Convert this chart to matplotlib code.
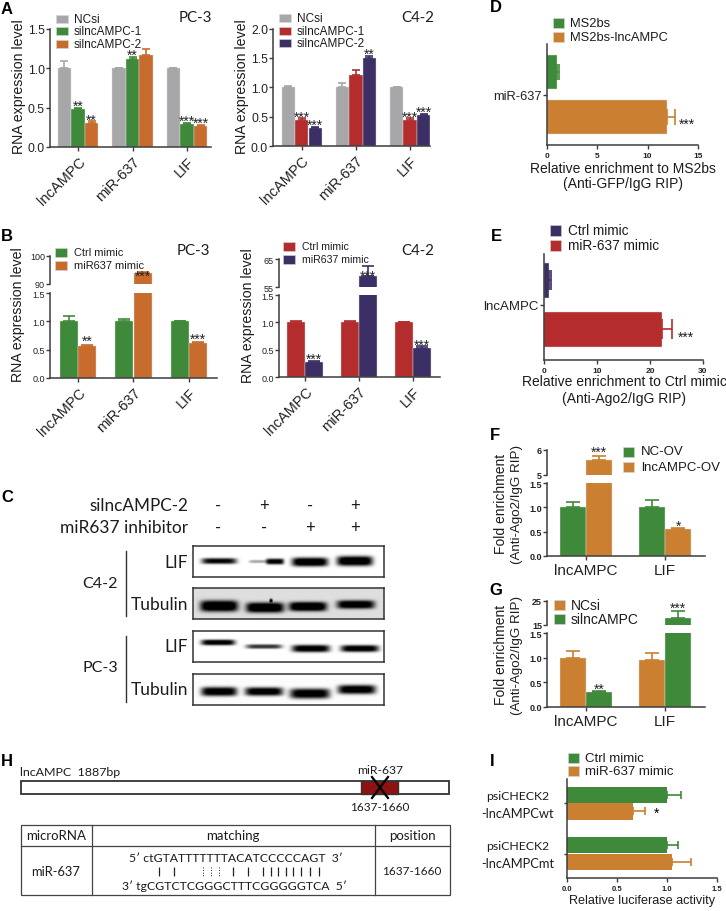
import numpy as np
from matplotlib import pyplot as plt
from matplotlib.patches import Rectangle

W, H = 726, 912
SANS = "Liberation Sans"
CAL = "Lato"

GRAY = "#a7a7aa"
GREEN = "#3f8a3a"
ORANGE = "#c86c2d"
ORANGE2 = "#cb7f30"
RED = "#b42c2c"
NAVY = "#3b2f66"
AXC = "#3c3c3c"

GENES = ["lncAMPC", "miR-637", "LIF"]

# A, PC-3
a1_ncsi = [1.0, 1.0, 1.0]
a1_ncsi_top = [1.09, 1.01, 1.01]
a1_si1 = [0.48, 1.12, 0.29]
a1_si1_top = [0.50, 1.14, 0.305]
a1_si2 = [0.31, 1.17, 0.27]
a1_si2_top = [0.325, 1.24, 0.285]
a1_stars = [["", "", ""], ["**", "**", "***"], ["**", "", "***"]]

# A, C4-2
a2_ncsi = [1.0, 1.0, 1.0]
a2_ncsi_top = [1.02, 1.07, 1.01]
a2_si1 = [0.45, 1.21, 0.45]
a2_si1_top = [0.47, 1.29, 0.47]
a2_si2 = [0.31, 1.49, 0.52]
a2_si2_top = [0.33, 1.54, 0.54]
a2_stars = [["", "", ""], ["***", "", "***"], ["***", "**", "***"]]

# B, PC-3
b1_ctrl = [1.0, 1.0, 1.0]
b1_ctrl_top = [1.09, 1.05, 1.01]
b1_mim = [0.57, 94.0, 0.62]
b1_mim_top = [0.59, 94.2, 0.63]
b1_stars = [["", "", ""], ["**", "***", "***"]]

# B, C4-2
b2_ctrl = [1.0, 1.0, 1.0]
b2_ctrl_top = [1.02, 1.02, 1.01]
b2_mim = [0.27, 59.0, 0.53]
b2_mim_top = [0.29, 62.5, 0.56]
b2_stars = [["", "", ""], ["***", "***", "***"]]

# D, E
d_vals = [1.0, 11.9]
d_tops = [1.15, 12.7]
e_vals = [1.0, 22.3]
e_tops = [1.25, 24.2]

# F, G
FG_GROUPS = ["lncAMPC", "LIF"]
f_nc = [1.0, 1.0]
f_nc_top = [1.1, 1.15]
f_ov = [5.6, 0.56]
f_ov_top = [5.77, 0.58]
f_stars = [["", ""], ["***", "*"]]
g_ncsi = [1.0, 0.95]
g_ncsi_top = [1.13, 1.1]
g_si = [0.3, 18.0]
g_si_top = [0.32, 20.8]
g_stars = [["", ""], ["**", "***"]]

# I
i_ctrl = [1.0, 1.0]
i_ctrl_top = [1.14, 1.11]
i_mim = [0.66, 1.05]
i_mim_top = [0.78, 1.24]

# blots: lane centre, half width, half height, darkness, height in box
LANES = [219, 265, 311, 356]
blot_c42_lif = [(219, 17.5, 3.0, 1.0, 15), (258, 9, 1.6, 0.35, 15.5), (275, 9, 3.0, 1.05, 15.5), (310, 18, 4.5, 1.2, 16), (355, 18, 5.0, 1.2, 15)]
blot_c42_tub = [(219, 19, 5.5, 1.1, 18.5), (265, 19, 5.0, 1.1, 20), (308, 19, 4.6, 1.1, 19), (356, 19, 4.2, 1.0, 17), (271, 1.6, 1.8, 0.8, 13)]
blot_pc3_lif = [(218, 17, 2.8, 1.1, 12), (264, 18, 2.2, 0.8, 16), (311, 19, 3.6, 1.1, 18), (360, 19, 3.4, 1.1, 18)]
blot_pc3_tub = [(219, 18, 4.5, 1.1, 18), (264, 19, 4.2, 1.1, 18), (310, 20, 5.0, 1.1, 20), (357, 19, 4.5, 1.1, 16)]

pair_solid = [159, 174, 233, 248, 263, 271, 278, 286, 293, 301, 310, 319]
pair_dotted = [203, 211, 219]

plt.rcParams["font.family"] = SANS

fig = plt.figure(figsize=(W / 100, H / 100), dpi=100, facecolor="white")


def px_axes(l, t, r, b):
    ax = fig.add_axes([l / W, 1 - b / H, (r - l) / W, (b - t) / H])
    ax.patch.set_alpha(0)
    for s in ["top", "right"]:
        ax.spines[s].set_visible(False)
    for s in ["left", "bottom"]:
        ax.spines[s].set_linewidth(1.1)
        ax.spines[s].set_color(AXC)
    ax.tick_params(colors="#222222", color=AXC, width=1.0, length=3, pad=2)
    ax.tick_params(axis="y", pad=0.6)
    return ax


def grouped(ax, series, tops, colors, width, stars=None, star_size=10, star_gap=0, on_bar=False, cap=2.8):
    n = len(series)
    ymin, ymax = ax.get_ylim()
    for j, (vals, top, col) in enumerate(zip(series, tops, colors)):
        x = np.arange(len(vals)) + (j - (n - 1) / 2) * width
        ax.bar(x, vals, width * 0.98, color=col, edgecolor="#dcdcdc", linewidth=0.3)
        for i, (xi, v, t) in enumerate(zip(x, vals, top)):
            if not (ymin <= t <= ymax and v <= ymax):
                continue
            ax.errorbar(xi, v, yerr=[[0], [t - v]], color=col, capsize=cap, elinewidth=1.2, capthick=1.2)
            if stars is not None and stars[j][i]:
                ax.annotate(stars[j][i], (xi, v if on_bar else t), xytext=(0, star_gap), textcoords="offset points",
                            ha="center", va="center", fontsize=star_size, color="#222222")


def broken(rect_up, rect_low, xlim, up_lim, up_ticks, series, tops, colors, width, stars, labels,
           tick_size, up_gap, low_gap, on_bar, cap):
    l, t, b1 = rect_up
    b2, b, r = rect_low
    up = px_axes(l, t, r, b1)
    up.set_xlim(xlim)
    up.set_ylim(up_lim)
    up.set_yticks(up_ticks)
    up.spines["bottom"].set_visible(False)
    up.set_xticks([])
    grouped(up, series, tops, colors, width, stars, star_gap=up_gap, on_bar=on_bar, cap=cap)
    low = px_axes(l, b2, r, b)
    low.set_xlim(xlim)
    low.set_ylim(0, 1.5)
    low.set_yticks([0.0, 0.5, 1.0, 1.5])
    low.set_xticks(range(len(labels)))
    low.set_xticklabels(labels)
    grouped(low, series, tops, colors, width, stars, star_gap=low_gap, cap=cap)
    up.tick_params(axis="y", labelsize=tick_size)
    low.tick_params(axis="y", labelsize=tick_size)
    return up, low


def hbars(ax, vals, tops, colors, xmax, xticks, bar_h, ytick_label, size, cap):
    ax.set_xlim(0, xmax)
    y = np.arange(len(vals))
    ax.barh(y, vals, bar_h, color=colors, edgecolor="#dcdcdc", linewidth=0.3)
    for yi, v, t, c in zip(y, vals, tops, colors):
        ax.errorbar(v, yi, xerr=[[0], [t - v]], color=c, capsize=cap, elinewidth=1.2, capthick=1.2)
    ax.set_xticks(xticks)
    ax.set_xticklabels([str(x) for x in xticks], fontsize=6, fontweight="bold")
    ax.set_yticks([0.5])
    ax.set_yticklabels([ytick_label], fontsize=size)


# panel A
xl = ((50 - 78) / 54.5, (211 - 78) / 54.5)
ax = px_axes(50, 30, 211, 148)
ax.set_xlim(xl)
ax.set_ylim(0, 1.5)
ax.set_yticks([0.0, 0.5, 1.0, 1.5])
grouped(ax, [a1_ncsi, a1_si1, a1_si2], [a1_ncsi_top, a1_si1_top, a1_si2_top], [GRAY, GREEN, ORANGE], 0.25, a1_stars, star_gap=1.5)
ax.set_xticks(range(3))
ax.set_xticklabels(GENES, rotation=45, ha="right", rotation_mode="anchor", fontsize=10.5)
ax.tick_params(axis="y", labelsize=8.8)

xl = ((273 - 301.7) / 54.2, (430 - 301.7) / 54.2)
ax = px_axes(273, 29.5, 430, 147)
ax.set_xlim(xl)
ax.set_ylim(0, 2.0)
ax.set_yticks([0.0, 0.5, 1.0, 1.5, 2.0])
grouped(ax, [a2_ncsi, a2_si1, a2_si2], [a2_ncsi_top, a2_si1_top, a2_si2_top], [GRAY, RED, NAVY], 0.25, a2_stars, star_gap=1.5)
ax.set_xticks(range(3))
ax.set_xticklabels(GENES, rotation=45, ha="right", rotation_mode="anchor", fontsize=10.5)
ax.tick_params(axis="y", labelsize=8.8)

# panel B
up, low = broken((50, 257, 285), (294, 379, 217), ((50 - 78) / 55.5, (217 - 78) / 55.5), (90, 100), [90, 100],
                 [b1_ctrl, b1_mim], [b1_ctrl_top, b1_mim_top], [GREEN, ORANGE], 0.333, b1_stars, GENES, 6.5, -2, 2.5, True, 4)
low.set_xticklabels(GENES, rotation=45, ha="right", rotation_mode="anchor", fontsize=10.5)
up, low = broken((279, 260, 288), (296, 378, 440), ((279 - 305) / 54, (440 - 305) / 54), (55, 65), [55, 65],
                 [b2_ctrl, b2_mim], [b2_ctrl_top, b2_mim_top], [RED, NAVY], 0.328, b2_stars, GENES, 6.5, 0, 1.5, True, 4)
low.set_xticklabels(GENES, rotation=45, ha="right", rotation_mode="anchor", fontsize=10.5)

# panel D
ax = px_axes(547, 45, 698, 146)
ax.set_ylim(1.63, -0.63)
hbars(ax, d_vals, d_tops, [GREEN, ORANGE2], 15, [0, 5, 10, 15], 0.76, "miR-637", 9.3, 6)

# panel E
ax = px_axes(544, 255, 703, 361)
ax.set_ylim(1.62, -0.53)
hbars(ax, e_vals, e_tops, [NAVY, RED], 30, [0, 10, 20, 30], 0.71, "lncAMPC", 9.5, 7)

# panel F
xl = ((547 - 586) / 79, (705 - 586) / 79)
up, low = broken((547, 451, 476), (484, 557, 705), xl, (5, 6), [5, 6],
                 [f_nc, f_ov], [f_nc_top, f_ov_top], [GREEN, ORANGE2], 0.337, f_stars, FG_GROUPS, 6.5, 2.5, 1.5, False, 5)
low.set_xticklabels(FG_GROUPS, fontsize=11)
for a in (up, low):
    a.set_yticklabels([t.get_text() for t in a.get_yticklabels()], fontweight="bold")

# panel G
up, low = broken((547, 601.7, 626), (634, 707.7, 705), xl, (15, 25), [15, 25],
                 [g_ncsi, g_si], [g_ncsi_top, g_si_top], [ORANGE2, GREEN], 0.337, g_stars, FG_GROUPS, 6.5, 2.5, 1.5, False, 5)
low.set_xticklabels(FG_GROUPS, fontsize=11)
for a in (up, low):
    a.set_yticklabels([t.get_text() for t in a.get_yticklabels()], fontweight="bold")

# panel I
ax = px_axes(567, 780, 717, 879)
ax.set_xlim(0, 1.5)
ax.set_ylim(1.93, -0.62)
pos = np.array([0, 1.3])
ax.barh(pos - 0.215, i_ctrl, 0.42, color=GREEN)
ax.barh(pos + 0.215, i_mim, 0.42, color=ORANGE2)
for yi, v, t in zip(pos - 0.215, i_ctrl, i_ctrl_top):
    ax.errorbar(v, yi, xerr=[[0], [t - v]], color=GREEN, capsize=3.2, elinewidth=1.2, capthick=1.2)
for yi, v, t in zip(pos + 0.215, i_mim, i_mim_top):
    ax.errorbar(v, yi, xerr=[[0], [t - v]], color=ORANGE2, capsize=3.2, elinewidth=1.2, capthick=1.2)
ax.set_xticks([0, 0.5, 1.0, 1.5])
ax.set_xticklabels(["0.0", "0.5", "1.0", "1.5"], fontsize=5.5, fontweight="bold")
ax.set_yticks(pos)
ax.set_yticklabels(["", ""])
ax.tick_params(axis="y", length=2)
ax.annotate("*", (i_mim_top[0], pos[0] + 0.215), xytext=(8, -1), textcoords="offset points", ha="center", va="center", fontsize=10)


# blots
def blot(t, b, bands, bg):
    l, r = 193, 384
    ax = fig.add_axes([l / W, 1 - b / H, (r - l) / W, (b - t) / H])
    xs = np.linspace(l, r, 382)
    ys = np.linspace(0, b - t, 64)
    X, Y = np.meshgrid(xs, ys)
    img = np.full(X.shape, bg)
    for c, hw, th, dark, yc in bands:
        img = img - dark * np.exp(-((X - c) / hw) ** 6) * np.exp(-np.abs((Y - yc) / th) ** 3)
    ax.imshow(np.clip(img, 0, 1), cmap="gray", vmin=0, vmax=1, aspect="auto", extent=(l, r, b - t, 0))
    ax.set_xticks([])
    ax.set_yticks([])
    for s in ax.spines.values():
        s.set_linewidth(1.1)
        s.set_color("#333333")


blot(547, 578, blot_c42_lif, 1.0)
blot(589, 620, blot_c42_tub, 0.87)
blot(632, 663, blot_pc3_lif, 1.0)
blot(675, 706, blot_pc3_tub, 0.99)

# overlay in pixel coordinates for all loose text
ov = fig.add_axes([0, 0, 1, 1], zorder=10)
ov.set_xlim(0, W)
ov.set_ylim(H, 0)
ov.axis("off")
ov.patch.set_alpha(0)


def T(x, y, s, size=10, ha="center", va="center", family=SANS, **kw):
    ov.text(x, y, s, fontsize=size, ha=ha, va=va, family=family, color=kw.pop("color", "#1c1c1c"), **kw)


def legend(x, ys, colors, labels, w, h, gap, size):
    for y, c, lab in zip(ys, colors, labels):
        ov.add_patch(Rectangle((x, y - h / 2), w, h, facecolor=c, edgecolor="#d8d8d8", linewidth=0.4))
        T(x + w + gap, y, lab, size=size, ha="left")


for x, y, s in [(7, 9, "A"), (7, 237, "B"), (7, 498, "C"), (496, 8, "D"), (496, 237, "E"),
                (495, 436, "F"), (496, 591, "G"), (7, 762, "H"), (492, 762, "I")]:
    T(x, y, s, size=12, fontweight="bold", color="black")

T(195, 18, "PC-3", size=10.8, family=CAL)
T(418, 18, "C4-2", size=10.8, family=CAL)
T(193.5, 251, "PC-3", size=10.8, family=CAL)
T(418, 251, "C4-2", size=10.8, family=CAL)

T(19, 87, "RNA expression level", size=10.2, rotation=90)
T(242, 87, "RNA expression level", size=10.2, rotation=90)
T(18, 315, "RNA expression level", size=10.2, rotation=90)
T(248, 316, "RNA expression level", size=10.2, rotation=90)

legend(56, [20, 32, 45], [GRAY, GREEN, ORANGE], ["NCsi", "silncAMPC-1", "silncAMPC-2"], 12, 8, 6, 8.5)
legend(279, [19, 32, 44], [GRAY, RED, NAVY], ["NCsi", "silncAMPC-1", "silncAMPC-2"], 12, 8, 6, 8.5)
legend(55, [253, 266], [GREEN, ORANGE], ["Ctrl mimic", "miR637 mimic"], 12, 9, 7, 7.9)
legend(283, [247, 260], [RED, NAVY], ["Ctrl mimic", "miR637 mimic"], 12, 9, 7, 7.6)

# panel C text
T(188, 506, "silncAMPC-2", size=12.3, ha="right", family=CAL)
T(188, 528, "miR637 inhibitor", size=12.5, ha="right", family=CAL)
for x, a, b in zip(LANES, ["-", "+", "-", "+"], ["-", "-", "+", "+"]):
    T(x - 1, 506, a, size=12, family=CAL)
    T(x - 1, 528, b, size=12, family=CAL)
T(188, 563, "LIF", size=12.5, ha="right", family=CAL)
T(188, 605, "Tubulin", size=12.5, ha="right", family=CAL)
T(188, 647, "LIF", size=12.5, ha="right", family=CAL)
T(188, 690, "Tubulin", size=12.5, ha="right", family=CAL)
T(118, 584, "C4-2", size=11.5, ha="right", family=CAL)
T(118, 668, "PC-3", size=11.5, ha="right", family=CAL)
ov.plot([125.5, 125.5], [552, 617], color="#333333", lw=1)
ov.plot([125.5, 125.5], [637, 703], color="#333333", lw=1)

# panel D / E text
legend(553, [24, 38], [GREEN, ORANGE2], ["MS2bs", "MS2bs-lncAMPC"], 11, 10, 6, 9.3)
T(623, 169, "Relative enrichment to MS2bs", size=10)
T(623, 184, "(Anti-GFP/IgG RIP)", size=10)
T(687, 125, "***", size=10)
legend(550, [231, 246], [NAVY, RED], ["Ctrl mimic", "miR-637 mimic"], 11, 11, 7, 9.8)
T(624, 382, "Relative enrichment to Ctrl mimic", size=10)
T(624, 399, "(Anti-Ago2/IgG RIP)", size=10)
T(686, 338, "***", size=10)

# panel F / G text
legend(623, [452.5, 468], [GREEN, ORANGE2], ["NC-OV", "lncAMPC-OV"], 11, 10, 7, 9.5)
T(501, 504, "Fold enrichment", size=10, rotation=90)
T(517, 504, "(Anti-Ago2/IgG RIP)", size=9.6, rotation=90)
legend(554, [606, 620], [ORANGE2, GREEN], ["NCsi", "silncAMPC"], 11, 10, 6, 10)
T(501, 655, "Fold enrichment", size=10, rotation=90)
T(517, 655, "(Anti-Ago2/IgG RIP)", size=9.6, rotation=90)

# panel H
T(20, 773, "lncAMPC  1887bp", size=8.9, ha="left", family=CAL)
ov.add_patch(Rectangle((20.5, 782), 428.5, 13, facecolor="white", edgecolor="#333333", linewidth=1.3))
ov.add_patch(Rectangle((361, 782), 37, 13, facecolor="#8f1212", edgecolor="#333333", linewidth=1.0))
ov.plot([372, 388], [778, 799], color="black", lw=1.6)
ov.plot([388, 372], [778, 799], color="black", lw=1.6)
T(380, 771, "miR-637", size=8.7, family=CAL)
T(380, 808, "1637-1660", size=8.5, family=CAL)
ov.add_patch(Rectangle((20.5, 826), 429.5, 70, facecolor="none", edgecolor="#444444", linewidth=0.9))
ov.plot([20.5, 450], [847, 847], color="#444444", lw=0.9)
ov.plot([92, 92], [826, 896], color="#444444", lw=0.9)
ov.plot([374.5, 374.5], [826, 896], color="#444444", lw=0.9)
T(56, 836.5, "microRNA", size=9.5, family=CAL)
T(233, 836.5, "matching", size=9.5, family=CAL)
T(412, 836.5, "position", size=9.5, family=CAL)
T(56, 872, "miR-637", size=9.3, family=CAL)
T(412, 872, "1637-1660", size=8.5, family=CAL)
T(236, 859, "5\u2032 ctGTATTTTTTTACATCCCCCAGT  3\u2032", size=8.8, family=CAL)
T(234, 886, "3\u2032 tgCGTCTCGGGCTTTCGGGGGTCA  5\u2032", size=8.8, family=CAL)
ov.vlines(pair_solid, 868, 877, color="#222222", lw=0.9)
ov.vlines(pair_dotted, 868, 877, color="#222222", lw=0.7, linestyles=":")

# panel I text
legend(568, [759, 772], [GREEN, ORANGE2], ["Ctrl mimic", "miR-637 mimic"], 11, 10, 6, 9.5)
T(518, 797, "psiCHECK2", size=8.8, family=CAL)
T(518, 814, "-lncAMPCwt", size=9.3, family=CAL)
T(518, 847, "psiCHECK2", size=8.8, family=CAL)
T(518, 864, "-lncAMPCmt", size=9.3, family=CAL)
T(642, 901, "Relative luciferase activity", size=9.1)

fig.savefig("out.png", dpi=100)
